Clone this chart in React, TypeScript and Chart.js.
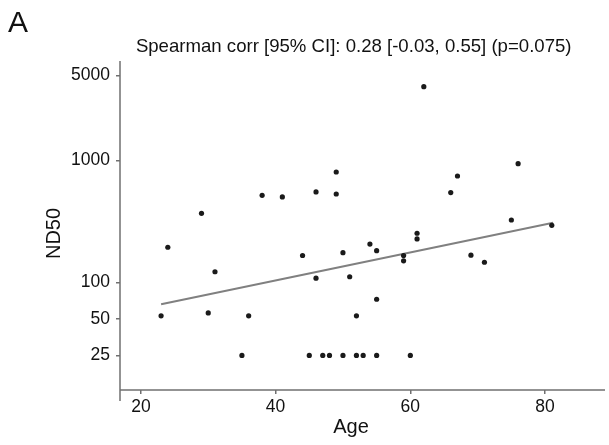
import React, { useEffect, useRef } from "react";
import { Chart, registerables } from "chart.js";

Chart.register(...registerables);

const ages = [23, 24, 29, 30, 31, 35, 36, 38, 41, 44, 45, 46, 46, 47, 48, 49, 49, 50, 50, 51, 52, 52, 53, 54, 55, 55, 55, 59, 59, 60, 61, 61, 62, 66, 67, 69, 71, 75, 76, 81];
const nd50 = [53, 194, 369, 56, 122, 25, 53, 519, 503, 166, 25, 553, 108, 25, 25, 807, 532, 175, 25, 111, 53, 25, 25, 206, 182, 72.5, 25, 166, 150, 25, 253, 227, 4061, 546, 748, 167, 146, 325, 945, 294];
const fitX = [23, 81.2];
const fitY = [65.9, 309];
const xTicks = [20, 40, 60, 80];
const yTicks = [25, 50, 100, 1000, 5000];
const titleText = "Spearman corr [95% CI]: 0.28 [-0.03, 0.55] (p=0.075)";
const panelLabel = "A";
const xTitle = "Age";
const yTitle = "ND50";

const FONT = "'Liberation Sans', Arial, sans-serif";
const AXIS = "#707070";

const decorPlugin = {
  id: "decor",
  afterDraw(chart: any) {
    const { ctx, chartArea } = chart;
    ctx.save();
    ctx.strokeStyle = AXIS;
    ctx.lineWidth = 1.5;
    ctx.beginPath();
    ctx.moveTo(chartArea.left, chartArea.top);
    ctx.lineTo(chartArea.left, chartArea.bottom + 11);
    ctx.moveTo(chartArea.left, chartArea.bottom);
    ctx.lineTo(chartArea.right, chartArea.bottom);
    ctx.stroke();

    ctx.fillStyle = "#111";
    ctx.font = `30px ${FONT}`;
    ctx.textAlign = "left";
    ctx.textBaseline = "alphabetic";
    ctx.fillText(panelLabel, 8, 32);

    ctx.font = `18.6px ${FONT}`;
    ctx.textAlign = "center";
    ctx.textBaseline = "alphabetic";
    ctx.fillText(titleText, 353.7, 52.3);

    ctx.font = `20px ${FONT}`;
    ctx.fillText(xTitle, 351, 433);

    ctx.translate(60, 233.5);
    ctx.rotate(-Math.PI / 2);
    ctx.fillText(yTitle, 0, 0);
    ctx.restore();
  },
};

export default function App() {
  const ref = useRef<HTMLCanvasElement>(null);
  useEffect(() => {
    if (!ref.current) return;
    const chart = new Chart(ref.current, {
      type: "scatter",
      data: {
        datasets: [
          {
            data: ages.map((a, i) => ({ x: a, y: nd50[i] })),
            pointRadius: 2.6,
            pointBackgroundColor: "#1a1a1a",
            pointBorderWidth: 0,
            showLine: false,
          },
          {
            data: fitX.map((a, i) => ({ x: a, y: fitY[i] })),
            showLine: true,
            pointRadius: 0,
            borderColor: "#808080",
            borderWidth: 2,
          },
        ],
      },
      options: {
        animation: false,
        responsive: false,
        maintainAspectRatio: false,
        layout: { padding: { top: 61, right: 1, bottom: 0, left: 0 } },
        plugins: { legend: { display: false }, tooltip: { enabled: false }, title: { display: false } },
        scales: {
          x: {
            type: "linear",
            min: 16.9,
            max: 88.9,
            afterBuildTicks: (s: any) => {
              s.ticks = xTicks.map((v) => ({ value: v }));
            },
            afterFit: (s: any) => {
              s.height = 55;
            },
            border: { display: false },
            grid: { drawOnChartArea: false, drawTicks: true, tickLength: 4, color: AXIS, lineWidth: 1.5 },
            ticks: { color: "#111", font: { family: FONT, size: 17.5 }, padding: 3, maxRotation: 0 },
          },
          y: {
            type: "logarithmic",
            min: 13,
            max: 6600,
            afterBuildTicks: (s: any) => {
              s.ticks = yTicks.map((v) => ({ value: v }));
            },
            afterFit: (s: any) => {
              s.width = 120;
            },
            border: { display: false },
            grid: { drawOnChartArea: false, drawTicks: true, tickLength: 4, color: AXIS, lineWidth: 1.5 },
            ticks: {
              color: "#111",
              font: { family: FONT, size: 17.5 },
              padding: 6,
              callback: (v: any) => String(v),
            },
          },
        },
      },
      plugins: [decorPlugin],
    });
    return () => chart.destroy();
  }, []);
  return (
    <div style={{ position: "fixed", left: 0, top: 0, width: 609, height: 445, background: "#fff" }}>
      <canvas ref={ref} width={609} height={445} style={{ width: 609, height: 445 }} />
    </div>
  );
}
